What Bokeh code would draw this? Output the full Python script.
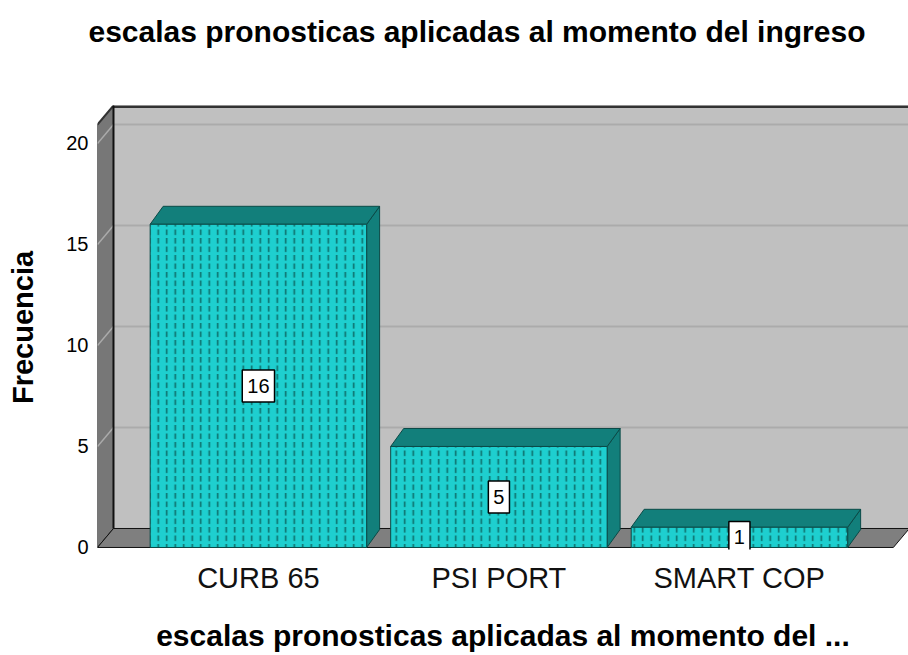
from bokeh.plotting import figure
from bokeh.models import ColumnDataSource, FixedTicker, Range1d, Title
from bokeh.core.properties import value
from bokeh.embed import file_html
from bokeh.resources import INLINE

# ---- data ----
categories = ["CURB 65", "PSI PORT", "SMART COP"]
frequencies = [16, 5, 1]
y_ticks = [0, 5, 10, 15, 20]
title_text = "escalas pronosticas aplicadas al momento del ingreso"
x_title = "escalas pronosticas aplicadas al momento del ..."
y_title = "Frecuencia"

# ---- styling / geometry (data units) ----
FONT = "Liberation Sans"
X0, X1 = -0.669, 2.703
Y0, Y1 = -0.1, 21.88
BAR_W = 0.9
BDX, BDY = 0.054, 0.89      # bar depth offset
WDX, WDY = 0.0665, 0.94     # wall depth offset
XR = 2.64                   # front-right end of floor

FRONT = "#1ecfcf"
SIDE = "#127f7b"
EDGE = "#0b4a47"

p = figure(width=908, height=655, output_backend="svg", toolbar_location=None,
           title=None,
           x_range=Range1d(X0, X1), y_range=Range1d(Y0, Y1),
           min_border_left=97, min_border_right=0, min_border_top=105,
           min_border_bottom=106)
p.outline_line_color = None
p.grid.visible = False
p.background_fill_color = "white"

# back wall
p.quad(left=[X0 + WDX], right=[X1 + 1], bottom=[WDY], top=[Y1],
       fill_color="#c0c0c0", line_color=None)
# left wall
p.patch([X0, X0 + WDX, X0 + WDX, X0], [0, WDY, Y1, Y1 - WDY],
        fill_color="#777777", line_color="#111111", line_width=1)
# floor
p.patch([X0, XR, XR + WDX, X0 + WDX], [0, 0, WDY, WDY],
        fill_color="#7f7f7f", line_color="#111111", line_width=1)
# grid lines on walls
for t in y_ticks[1:]:
    p.line([X0 + WDX, X1 + 1], [t + WDY, t + WDY], line_color="#ababab", line_width=2)
    p.line([X0, X0 + WDX], [t, t + WDY], line_color="#ababab", line_width=1.5)
# back wall top edge and wall corner
p.line([X0 + WDX, X1 + 1], [Y1 - 0.05, Y1 - 0.05], line_color="#333333", line_width=3)
p.line([X0, X0 + WDX], [Y1 - WDY, Y1], line_color="#333333", line_width=2)
p.line([X0 + WDX, X0 + WDX], [WDY, Y1], line_color="#111111", line_width=2)

# bars
xs = list(range(len(categories)))
tops_x, tops_y, side_x, side_y = [], [], [], []
for i, v in zip(xs, frequencies):
    l, r = i - BAR_W / 2, i + BAR_W / 2
    tops_x.append([l, r, r + BDX, l + BDX])
    tops_y.append([v, v, v + BDY, v + BDY])
    side_x.append([r, r + BDX, r + BDX, r])
    side_y.append([0, BDY, v + BDY, v])
p.patches(side_x, side_y, fill_color=SIDE, line_color=EDGE, line_width=1)
p.patches(tops_x, tops_y, fill_color=SIDE, line_color=EDGE, line_width=1)
p.quad(left=[i - BAR_W / 2 for i in xs], right=[i + BAR_W / 2 for i in xs],
       bottom=0, top=frequencies, fill_color=FRONT, line_color=EDGE, line_width=1,
       hatch_pattern="vertical_dash", hatch_color="#0e6e6a", hatch_scale=8.5,
       hatch_weight=1.6)

# value labels
src = ColumnDataSource(dict(x=xs, y=[v / 2 for v in frequencies],
                            t=[str(v) for v in frequencies]))
p.text(x="x", y="y", text="t", source=src, text_align="center",
       text_baseline="middle", text_font=value(FONT), text_font_size="20px",
       text_color="black", background_fill_color="white",
       border_line_color="black", border_line_width=1.5,
       padding=dict(left=5, right=5, top=9, bottom=9))

# axes
p.yaxis.ticker = FixedTicker(ticks=y_ticks)
p.yaxis.axis_line_color = None
p.yaxis.major_tick_line_color = None
p.yaxis.minor_tick_line_color = None
p.yaxis.major_tick_out = 0
p.yaxis.major_tick_in = 0
p.yaxis.minor_tick_out = 0
p.yaxis.major_label_standoff = 9
p.yaxis.major_label_text_font = FONT
p.yaxis.major_label_text_font_size = "20px"
p.yaxis.major_label_text_color = "black"
p.yaxis.axis_label = y_title
p.yaxis.axis_label_text_font = FONT
p.yaxis.axis_label_text_font_size = "29px"
p.yaxis.axis_label_text_font_style = "bold"
p.yaxis.axis_label_text_color = "black"
p.yaxis.axis_label_standoff = 24

p.xaxis.ticker = FixedTicker(ticks=xs)
p.xaxis.major_label_overrides = {i: c for i, c in zip(xs, categories)}
p.xaxis.axis_line_color = None
p.xaxis.major_tick_line_color = None
p.xaxis.minor_tick_line_color = None
p.xaxis.major_tick_out = 0
p.xaxis.major_tick_in = 0
p.xaxis.minor_tick_out = 0
p.xaxis.major_label_standoff = 12
p.xaxis.major_label_text_font = FONT
p.xaxis.major_label_text_font_size = "29px"
p.xaxis.major_label_text_color = "#111111"
p.xaxis.axis_label = x_title
p.xaxis.axis_label_text_font = FONT
p.xaxis.axis_label_text_font_size = "30px"
p.xaxis.axis_label_text_font_style = "bold"
p.xaxis.axis_label_text_color = "black"
p.xaxis.axis_label_standoff = 22

# spacer (closest to frame) then the main title
p.add_layout(Title(text=" ", text_font_size="37px"), "above")
p.add_layout(Title(text=title_text, text_font=FONT, text_font_size="30px",
                   text_font_style="bold", text_color="black",
                   align="left", offset=-9), "above")

open("out.html", "w").write(file_html(p, INLINE))
